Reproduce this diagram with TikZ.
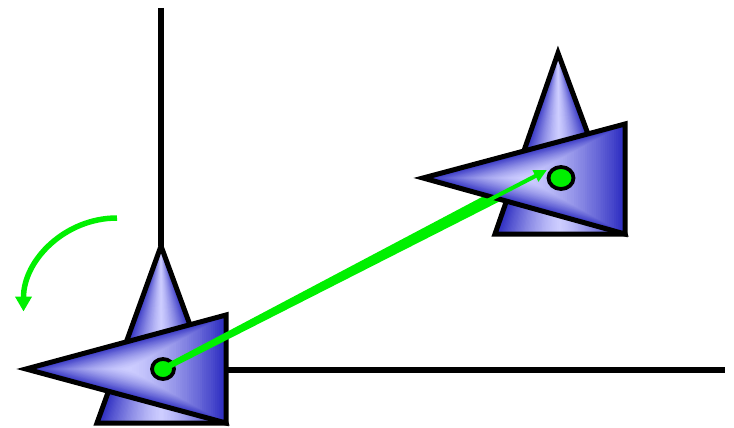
\documentclass[tikz,border=0pt]{standalone}
\usetikzlibrary{arrows.meta,calc}
\definecolor{darkb}{RGB}{50,50,195}
\definecolor{lightb}{RGB}{205,205,255}
\definecolor{brightg}{RGB}{0,240,0}
% shaded tall triangle: light along apex-base centre line, dark at the sides
\newcommand\myshadetall[3]{%
  \coordinate (mm) at ($(#2)!0.5!(#3)$);
  \foreach \i in {0,...,44}{%
    \pgfmathsetmacro\s{1-\i/45}%
    \pgfmathtruncatemacro\p{min(100,105*\s^1.3)}%
    \fill[darkb!\p!lightb] (#1) -- ($(mm)!\s!(#3)$) -- ($(mm)!\s!(#2)$) -- cycle;
  }%
  \draw[tri] (#1) -- (#3) -- (#2) -- cycle;
}
% shaded wide triangle: light core around a point, dark at the edges
\newcommand\myshadewide[4]{%
  \foreach \i in {0,...,44}{%
    \pgfmathsetmacro\s{1-\i/45}%
    \pgfmathtruncatemacro\p{min(100,105*\s^1.5)}%
    \fill[darkb!\p!lightb] ($(#4)!\s!(#1)$) -- ($(#4)!\s!(#2)$) -- ($(#4)!\s!(#3)$) -- cycle;
  }%
  \draw[tri] (#1) -- (#2) -- (#3) -- cycle;
}
\begin{document}
\begin{tikzpicture}[x=1pt,y=-1pt,
  tri/.style={draw=black,line width=5pt,line join=miter},
  dot/.style={draw=black,fill=brightg,line width=3.8pt},
  axisline/.style={line width=5.5pt,black},
  garrow/.style={draw=brightg,line width=5.5pt,-{Triangle[length=15pt,width=16pt]}},
  motion/.style={draw=brightg,line width=4pt,-{Triangle[length=13pt,width=12pt]}}
  ]
\useasboundingbox (0,0) rectangle (734,428);
\clip (0,0) rectangle (734,428);
% frame 1
\coordinate (a1) at (161,246);
\coordinate (b1r) at (226,423);
\coordinate (b1l) at (97,423);
\coordinate (w1t) at (26,369);
\coordinate (w1u) at (226,315);
\coordinate (p1) at (128,369);
\coordinate (c1) at (163,369);
\coordinate (ytop) at (161,8);
\coordinate (xend) at (725,370);
\coordinate (xstart) at (226,370);
% frame 2
\coordinate (a2) at (558,53);
\coordinate (b2r) at (625,234);
\coordinate (b2l) at (495,234);
\coordinate (w2t) at (423,178);
\coordinate (w2u) at (625,124);
\coordinate (p2) at (525,178);
\coordinate (c2) at (561,178);
\coordinate (tipm) at (547,170);
% rotation arrow
\coordinate (rs) at (117,218);

\draw[axisline] (ytop) -- (a1);
\draw[axisline] (xstart) -- (xend);
\myshadetall{a1}{b1l}{b1r}
\myshadewide{w1t}{w1u}{b1r}{p1}
\draw[dot] (c1) ellipse [x radius=11, y radius=10];

\myshadetall{a2}{b2l}{b2r}
\fill[brightg] ($(c1)!3pt!90:(tipm)$) -- ($(tipm)!6.5pt!-90:(c1)$) -- ($(tipm)!6.5pt!90:(c1)$) -- ($(c1)!3pt!-90:(tipm)$) -- cycle;
\myshadewide{w2t}{w2u}{b2r}{p2}
\draw[dot] (c2) ellipse [x radius=12.5, y radius=11];

\draw[motion] (c1) -- (tipm);
\draw[garrow] (rs) arc[start angle=-90, end angle=-180, radius=93.5];
\end{tikzpicture}
\end{document}
